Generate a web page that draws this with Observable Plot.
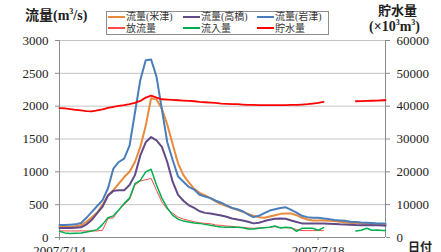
<!DOCTYPE html>
<html><head><meta charset="utf-8">
<script src="https://cdn.jsdelivr.net/npm/d3@7"></script>
<script src="https://cdn.jsdelivr.net/npm/@observablehq/plot@0.6"></script>
<style>
body{margin:0;background:#fff;}
#wrap{position:relative;width:441px;height:252px;overflow:hidden;font-family:"Liberation Serif","Noto Sans CJK JP",serif;color:#222;}
#wrap svg{position:absolute;left:0;top:0;}
.ttl{position:absolute;font-weight:bold;font-size:14px;white-space:nowrap;line-height:1;}
#legend{position:absolute;left:106px;top:11px;width:221px;height:22px;border:1px solid #8c8c8c;background:#fff;font-family:"Liberation Serif","Noto Sans CJK JP",serif;font-size:10px;color:#333;}
.li{position:absolute;white-space:nowrap;line-height:10px;height:10px;}
.li span{display:inline-block;width:17px;height:0;border-top:2px solid;vertical-align:middle;margin-right:1px;position:relative;top:-1px;}
</style></head>
<body><div id="wrap"></div>
<script>
const hours = [0,2,4,6,8,10,12,14,16,18,20,22,24,26,28,30,32,34,36,38,40,42,44,46,48,50,52,54,56,58,60,62,64,66,68,70,72,74,76,78,80,82,84,86,88,90,92,94,96,98,100,102,104,106,108,110,112,114,116,118,120,121];
const flowYonezu = [165,165,165,170,185,240,310,380,500,640,720,820,920,1000,1150,1380,1700,2120,2100,1960,1720,1420,1130,950,840,740,680,640,600,550,510,480,450,420,390,360,330,310,300,320,340,360,365,365,340,300,275,260,260,258,255,250,240,232,225,218,215,210,205,200,198,195];
const flowTakahashi = [145,145,145,150,155,200,270,370,470,640,710,720,720,800,950,1250,1450,1530,1480,1380,1150,850,650,560,490,450,400,375,365,350,335,315,290,275,260,240,215,225,250,270,285,290,285,260,235,215,215,215,215,212,210,205,200,198,195,190,188,186,185,185,182,180];
const flowIwazu = [190,190,195,200,220,300,390,480,570,750,1050,1150,1200,1400,1900,2400,2700,2710,2450,1950,1450,1180,930,850,770,730,650,625,600,560,530,490,450,430,400,350,310,330,370,410,430,450,460,420,380,330,310,300,300,290,280,265,260,255,240,235,228,225,220,215,212,210];
const discharge = [100,100,100,100,100,100,100,100,110,290,300,420,500,580,800,860,880,900,720,540,430,370,310,280,260,240,225,215,210,190,185,175,170,160,155,145,140,145,150,155,165,150,150,145,120,105,105,105,105,105,null,null,null,null,null,null,null,null,null,null,null,null];
const inflow = [95,70,60,65,70,85,100,120,200,300,330,420,520,600,820,870,1000,1040,800,600,450,340,280,250,235,220,215,200,185,170,160,155,155,155,150,130,130,140,150,155,175,145,155,150,95,140,140,140,110,150,null,null,null,null,null,100,110,140,110,115,105,105];
const storage = [39400,39300,39100,38900,38700,38500,38400,38700,39000,39500,39800,40100,40300,40600,41000,41600,42600,43200,42600,42100,42000,41900,41800,41700,41600,41500,41300,41200,41100,41000,40800,40700,40600,40600,40500,40400,40400,40300,40300,40300,40300,40300,40300,40400,40400,40500,40600,40800,41000,41300,null,null,null,null,null,41500,41550,41600,41650,41700,41800,41800];
const flowTicks = [0,500,1000,1500,2000,2500,3000];
const xTicks = [0,96];
const xTickLabels = ["2007/7/14","2007/7/18"];

const series = [
  {name:"流量(米津)", values:flowYonezu, color:"#E98A3C", width:2},
  {name:"流量(高橋)", values:flowTakahashi, color:"#624A86", width:2},
  {name:"流量(岩津)", values:flowIwazu, color:"#4A7EBB", width:2},
  {name:"放流量", values:discharge, color:"#FF4A4A", width:1},
  {name:"流入量", values:inflow, color:"#00B050", width:1.5},
  {name:"貯水量", values:storage.map(v => v == null ? null : v/20), color:"#FF0000", width:1.8}
];

const lineMarks = series.map(s =>
  Plot.line(hours.map((h,i) => ({h, v: s.values[i]})), {x:"h", y:"v", stroke:s.color, strokeWidth:s.width, curve:"linear"})
);

const chart = Plot.plot({
  width:441, height:252,
  marginLeft:59, marginRight:56, marginTop:40, marginBottom:15,
  style:{fontFamily:"'Liberation Serif', serif", fontSize:"13px", color:"#222", background:"transparent", overflow:"visible"},
  x:{domain:[0,121]},
  y:{domain:[0,3000]},
  marks:[
    Plot.ruleY(flowTicks.filter(d => d>0), {stroke:"#C4C4C4", strokeWidth:1}),
    Plot.ruleX([0,121], {stroke:"#8c8c8c", strokeWidth:1}),
    Plot.ruleY([0], {stroke:"#8c8c8c", strokeWidth:1}),
    ...lineMarks,
    Plot.axisY({ticks:flowTicks, anchor:"left", tickSize:4, tickPadding:7, label:null, tickFormat:d => String(d), stroke:"#8c8c8c"}),
    Plot.axisY({ticks:flowTicks, anchor:"right", tickSize:4, tickPadding:7, label:null, tickFormat:d => String(d*20), stroke:"#8c8c8c"}),
    Plot.axisX({ticks:xTicks, tickSize:3, tickPadding:5, label:null, tickFormat:d => xTickLabels[xTicks.indexOf(d)], stroke:"#8c8c8c"})
  ]
});
const wrap = document.getElementById("wrap");
wrap.appendChild(chart);

function addDiv(cls, html, css){ const d=document.createElement("div"); d.className=cls; d.innerHTML=html; Object.assign(d.style, css); wrap.appendChild(d); return d; }
addDiv("ttl", '<span style="font-family:Noto Sans CJK JP">流量</span>(m<sup style="font-size:8px">3</sup>/s)', {left:"25px", top:"7px"});
addDiv("ttl", '<span style="font-family:Noto Sans CJK JP">貯水量</span>', {left:"378px", top:"3px", fontSize:"13px"});
addDiv("ttl", '(×10<sup style="font-size:8px">3</sup>m<sup style="font-size:8px">3</sup>)', {left:"369px", top:"19px", fontSize:"14px"});
addDiv("ttl", '<span style="font-family:Noto Sans CJK JP">日付</span>', {left:"408px", top:"241px", fontSize:"12px"});

const legend = document.createElement("div"); legend.id="legend"; wrap.appendChild(legend);
const cols = [1, 76, 150];
series.forEach((s,i) => {
  const d = document.createElement("div"); d.className="li";
  d.style.left = cols[i%3]+"px"; d.style.top = (i<3 ? 0 : 11.5)+"px";
  d.innerHTML = '<span style="border-color:'+s.color+'"></span>'+s.name;
  legend.appendChild(d);
});
</script></body></html>
